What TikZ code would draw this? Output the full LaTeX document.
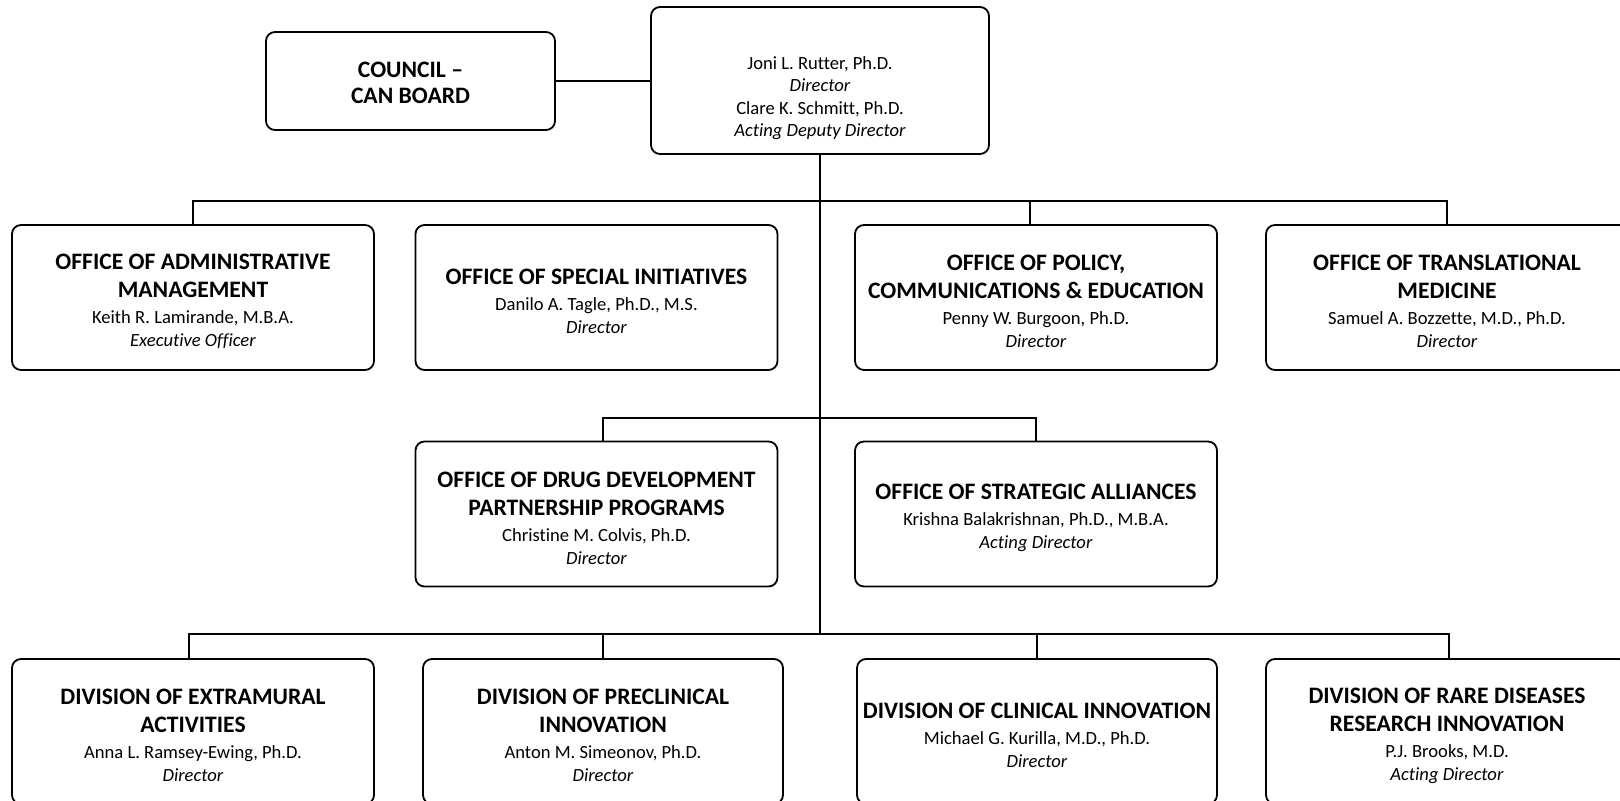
\documentclass[tikz,border=0pt]{standalone}
\usepackage{fontspec}
\setmainfont{Carlito}[Ligatures={NoCommon}]
\newcommand{\unithead}[1]{{\bfseries\fontsize{11.8}{14}\selectfont #1}}
\newcommand{\topstrut}{\rule{0pt}{12pt}}

\begin{document}
\begin{tikzpicture}[x=0.5pt, y=-0.5pt,
    unit/.style={draw, line width=0.9pt, rounded corners=4.5pt, minimum width=181pt,
      minimum height=72.5pt, align=center, inner sep=0pt, font=\fontsize{9.3}{11.5}\selectfont},
    link/.style={line width=1pt}]
  \useasboundingbox (0,0) rectangle (1620,801);
  \clip (0,0) rectangle (1620,801);

  % Nodes
  \node (council) [unit, minimum width=144.5pt, minimum height=49pt] at (410.5,81)
    {\rule{0pt}{9.6pt}\unithead{COUNCIL --}\\[1.5pt]\unithead{CAN BOARD}};
  \node (dir) [unit, minimum width=169pt, minimum height=73.5pt] at (820,80.5) {};
  \node (dirtext) [align=center, font=\fontsize{9.3}{11.2}\selectfont] at (820,98)
    {Joni L. Rutter, Ph.D.\\ \textit{Director}\\ Clare K. Schmitt, Ph.D.\\ \textit{Acting Deputy Director}};

  \node (adm) [unit] at (193,297.5)
    {\topstrut\unithead{OFFICE OF ADMINISTRATIVE}\\[2.5pt]\unithead{MANAGEMENT}\\[1.5pt]
     Keith R. Lamirande, M.B.A.\\ \textit{Executive Officer}};
  \node (spec) [unit] at (596.5,297.5)
    {\topstrut\unithead{OFFICE OF SPECIAL INITIATIVES}\\[1.5pt]
     Danilo A. Tagle, Ph.D., M.S.\\ \textit{Director}};
  \node (pol) [unit] at (1036,297.5)
    {\topstrut\unithead{OFFICE OF POLICY,}\\[2.5pt]\unithead{COMMUNICATIONS \& EDUCATION}\\[1.5pt]
     Penny W. Burgoon, Ph.D.\\ \textit{Director}};
  \node (trans) [unit] at (1447,297.5)
    {\topstrut\unithead{OFFICE OF TRANSLATIONAL}\\[2.5pt]\unithead{MEDICINE}\\[1.5pt]
     Samuel A. Bozzette, M.D., Ph.D.\\ \textit{Director}};

  \node (drug) [unit] at (596.5,514)
    {\topstrut\unithead{OFFICE OF DRUG DEVELOPMENT}\\[2.5pt]\unithead{PARTNERSHIP PROGRAMS}\\[1.5pt]
     Christine M. Colvis, Ph.D.\\ \textit{Director}};
  \node (strat) [unit] at (1036,514)
    {\topstrut\unithead{OFFICE OF STRATEGIC ALLIANCES}\\[1.5pt]
     Krishna Balakrishnan, Ph.D., M.B.A.\\ \textit{Acting Director}};

  \node (extra) [unit] at (193,731.5)
    {\topstrut\unithead{DIVISION OF EXTRAMURAL}\\[2.5pt]\unithead{ACTIVITIES}\\[1.5pt]
     Anna L. Ramsey-Ewing, Ph.D.\\ \textit{Director}};
  \node (precl) [unit, minimum width=180pt] at (603,731.5)
    {\topstrut\unithead{DIVISION OF PRECLINICAL}\\[2.5pt]\unithead{INNOVATION}\\[1.5pt]
     Anton M. Simeonov, Ph.D.\\ \textit{Director}};
  \node (clin) [unit, minimum width=180pt] at (1037,731.5)
    {\topstrut\unithead{DIVISION OF CLINICAL INNOVATION}\\[1.5pt]
     Michael G. Kurilla, M.D., Ph.D.\\ \textit{Director}};
  \node (rare) [unit] at (1447,731.5)
    {\topstrut\unithead{DIVISION OF RARE DISEASES}\\[2.5pt]\unithead{RESEARCH INNOVATION}\\[1.5pt]
     P.J. Brooks, M.D.\\ \textit{Acting Director}};

  \coordinate (bar1) at (820,201);
  \coordinate (bar2) at (820,418);
  \coordinate (bar3) at (820,634);

  % Lines
  \draw [link] (council.east) -- (council.east -| dir.west);
  \draw [link] (dir.south) -- (bar3);
  \draw [link] (adm.north) |- (bar1) -| (trans.north);
  \draw [link] (bar1) -| ([xshift=-3pt]pol.north);
  \draw [link] ([xshift=3pt]drug.north) |- (bar2) -| (strat.north);
  \draw [link] ([xshift=-2pt]extra.north) |- (bar3) -| ([xshift=1pt]rare.north);
  \draw [link] (bar3) -| (precl.north);
  \draw [link] (bar3) -| (clin.north);
\end{tikzpicture}
\end{document}
